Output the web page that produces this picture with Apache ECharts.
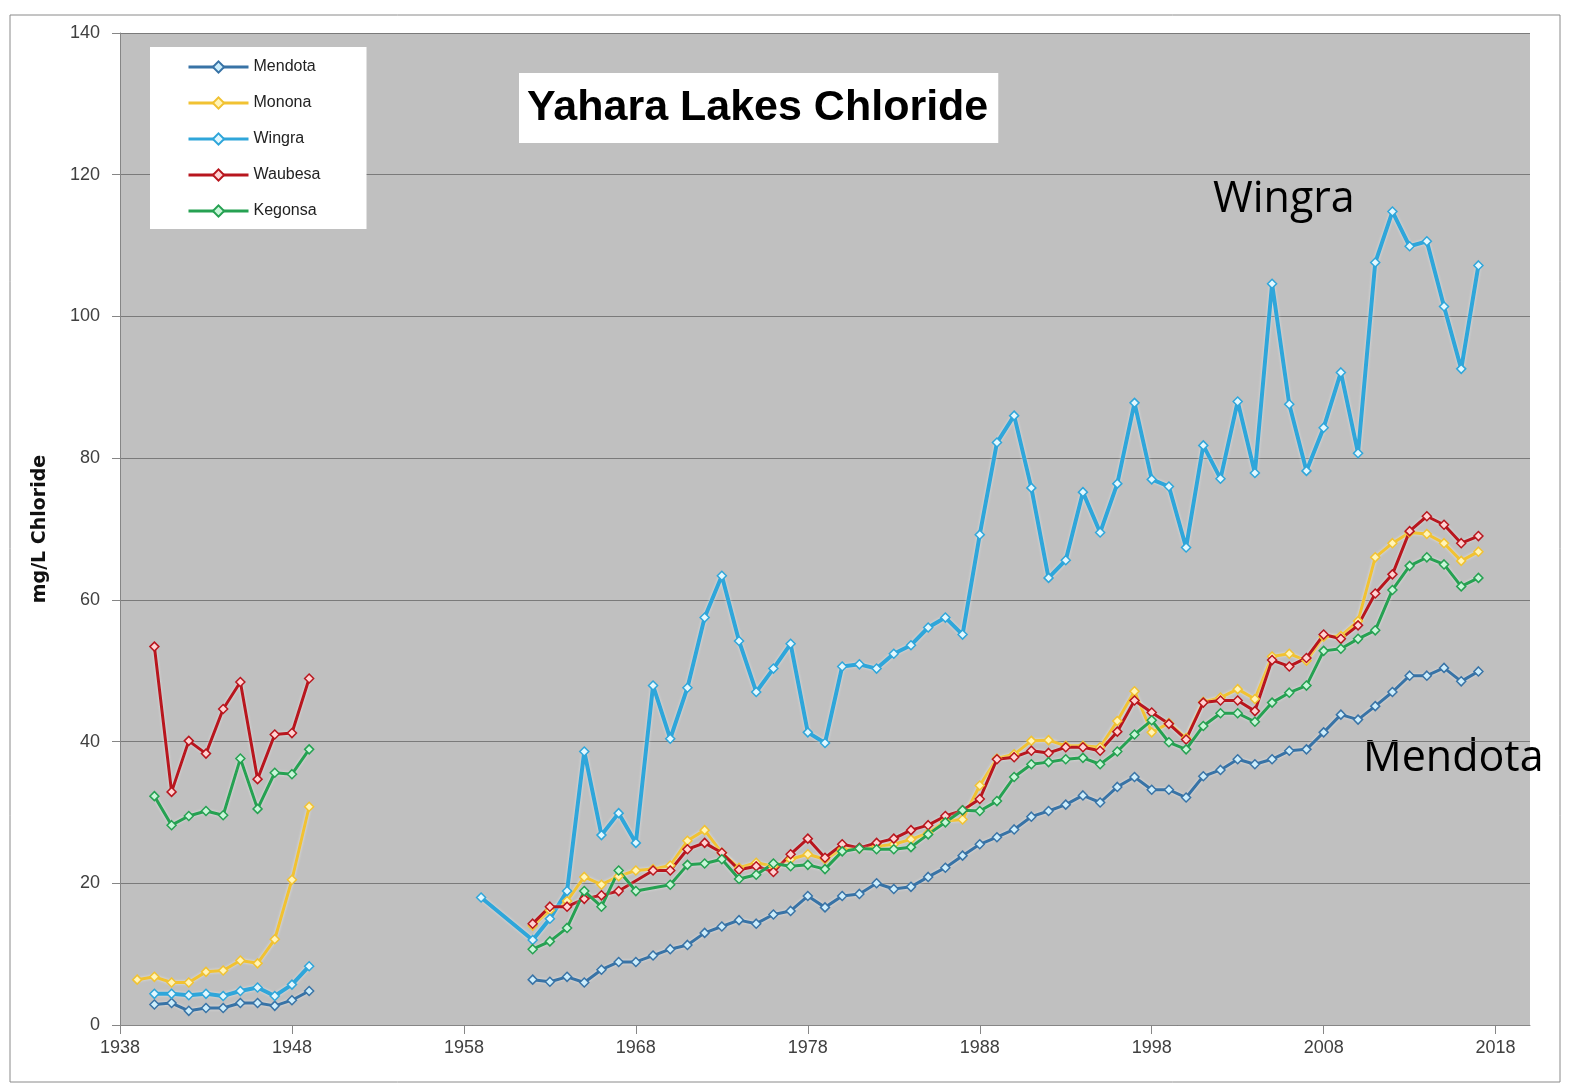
<!DOCTYPE html>
<html>
<head>
<meta charset="utf-8">
<title>Yahara Lakes Chloride</title>
<script src="https://cdn.jsdelivr.net/npm/echarts@6/dist/echarts.min.js"></script>
<style>
  html, body { margin: 0; padding: 0; background: #fff; }
  #chart { width: 1569px; height: 1089px; }
</style>
</head>
<body>
<div id="chart"></div>
<script>
// years with samples (two eras, the 1950s are a gap)
const earlyYears = [1939, 1940, 1941, 1942, 1943, 1944, 1945, 1946, 1947, 1948, 1949];
const modernYears = [
  1959, 1960, 1961, 1962, 1963, 1964, 1965, 1966, 1967, 1968,
  1969, 1970, 1971, 1972, 1973, 1974, 1975, 1976, 1977, 1978,
  1979, 1980, 1981, 1982, 1983, 1984, 1985, 1986, 1987, 1988,
  1989, 1990, 1991, 1992, 1993, 1994, 1995, 1996, 1997, 1998,
  1999, 2000, 2001, 2002, 2003, 2004, 2005, 2006, 2007, 2008,
  2009, 2010, 2011, 2012, 2013, 2014, 2015, 2016, 2017
];
const gapYear = 1954;
const xTicks = [1938, 1948, 1958, 1968, 1978, 1988, 1998, 2008, 2018];

// mg/L chloride
const mendotaEarly = [null, 2.9, 3.1, 2.0, 2.4, 2.4, 3.1, 3.1, 2.7, 3.5, 4.8];
const mendotaModern = [
  null, null, null, 6.4, 6.1, 6.8, 6.0, 7.8, 8.9, 8.9,
  9.8, 10.7, 11.3, 13.0, 13.9, 14.8, 14.3, 15.6, 16.1, 18.2,
  16.6, 18.2, 18.5, 20.0, 19.2, 19.5, 20.9, 22.2, 23.9, 25.5,
  26.5, 27.6, 29.4, 30.2, 31.1, 32.4, 31.4, 33.6, 35.0, 33.2,
  33.2, 32.1, 35.1, 36.0, 37.5, 36.8, 37.5, 38.7, 38.9, 41.3,
  43.8, 43.1, 45.0, 47.0, 49.3, 49.3, 50.4, 48.5, 49.9
];

const mononaEarly = [6.4, 6.8, 6.0, 6.0, 7.5, 7.7, 9.1, 8.7, 12.1, 20.5, 30.8];
const mononaModern = [
  null, null, null, 14.0, 16.2, 17.5, 20.9, 19.8, 21.0, 21.8,
  22.0, 22.5, 26.0, 27.5, 24.3, 22.2, 22.9, 22.4, 23.4, 24.1,
  23.4, 24.8, 24.9, 25.2, 25.5, 26.2, 27.1, 28.8, 29.0, 33.8,
  37.6, 38.2, 40.1, 40.2, 39.4, 39.4, 39.2, 42.9, 47.1, 41.3,
  42.6, 40.5, 45.6, 46.2, 47.4, 46.0, 52.0, 52.4, 51.4, 54.8,
  54.9, 57.0, 66.0, 68.0, 69.5, 69.3, 68.0, 65.5, 66.8
];

const wingraEarly = [null, 4.4, 4.4, 4.2, 4.4, 4.1, 4.8, 5.3, 4.1, 5.7, 8.3];
const wingraModern = [
  18.0, null, null, 12.0, 15.0, 18.9, 38.6, 26.8, 29.9, 25.7,
  47.9, 40.4, 47.6, 57.5, 63.4, 54.2, 47.0, 50.3, 53.8, 41.3,
  39.8, 50.6, 50.9, 50.3, 52.4, 53.6, 56.1, 57.5, 55.1, 69.2,
  82.2, 86.0, 75.8, 63.1, 65.6, 75.2, 69.5, 76.4, 87.8, 77.0,
  76.0, 67.4, 81.8, 77.1, 88.0, 77.9, 104.6, 87.6, 78.2, 84.3,
  92.1, 80.7, 107.6, 114.8, 109.9, 110.6, 101.4, 92.6, 107.2
];

const waubesaEarly = [null, 53.4, 32.9, 40.1, 38.3, 44.6, 48.4, 34.7, 41.0, 41.2, 48.9];
const waubesaModern = [
  null, null, null, 14.3, 16.7, 16.7, 17.8, 18.3, 18.9, null,
  21.8, 21.8, 24.8, 25.7, 24.3, 21.9, 22.4, 21.6, 24.1, 26.3,
  23.6, 25.5, 25.0, 25.7, 26.3, 27.5, 28.2, 29.5, 30.3, 31.9,
  37.5, 37.8, 38.7, 38.4, 39.2, 39.2, 38.7, 41.4, 45.8, 44.1,
  42.5, 40.3, 45.5, 45.8, 45.8, 44.3, 51.5, 50.6, 51.8, 55.1,
  54.5, 56.4, 60.9, 63.6, 69.7, 71.8, 70.6, 68.0, 69.0
];

const kegonsaEarly = [null, 32.3, 28.2, 29.5, 30.2, 29.6, 37.6, 30.5, 35.6, 35.4, 38.9];
const kegonsaModern = [
  null, null, null, 10.7, 11.8, 13.7, 18.9, 16.7, 21.8, 18.9,
  null, 19.8, 22.6, 22.8, 23.4, 20.6, 21.2, 22.8, 22.4, 22.6,
  22.0, 24.5, 24.9, 24.8, 24.8, 25.1, 26.9, 28.6, 30.3, 30.2,
  31.6, 35.0, 36.8, 37.1, 37.5, 37.7, 36.8, 38.6, 41.0, 43.0,
  39.9, 38.9, 42.2, 44.0, 44.0, 42.8, 45.5, 46.9, 47.9, 52.8,
  53.1, 54.5, 55.7, 61.4, 64.8, 66.0, 65.0, 61.9, 63.1
];

const lakes = [
  {name: 'Mendota', early: mendotaEarly, modern: mendotaModern, color: '#3873a6', fill: '#cdeefc', width: 3},
  {name: 'Monona', early: mononaEarly, modern: mononaModern, color: '#f1c232', fill: '#fff4b8', width: 3},
  {name: 'Wingra', early: wingraEarly, modern: wingraModern, color: '#2fa6da', fill: '#e2f8ff', width: 4},
  {name: 'Waubesa', early: waubesaEarly, modern: waubesaModern, color: '#b8161e', fill: '#ffd3d3', width: 3},
  {name: 'Kegonsa', early: kegonsaEarly, modern: kegonsaModern, color: '#26a152', fill: '#c9f6d9', width: 3}
];

function toPairs(early, modern) {
  let pts = [];
  for (let i = 0; i < earlyYears.length; i++) {
    if (early[i] != null) pts.push([earlyYears[i], early[i]]);
  }
  pts.push([gapYear, '-']); // break the line across the 1950s
  for (let i = 0; i < modernYears.length; i++) {
    if (modern[i] != null) pts.push([modernYears[i], modern[i]]);
  }
  return pts;
}

const chart = echarts.init(document.getElementById('chart'), null, {renderer: 'canvas'});

const option = {
  animation: false,
  backgroundColor: '#fff',
  title: {
    text: 'Yahara Lakes Chloride',
    left: 519,
    top: 73,
    backgroundColor: '#fff',
    padding: [12, 10, 12, 8],
    textStyle: {
      fontFamily: 'Liberation Sans',
      fontWeight: 'bold',
      fontSize: 43,
      lineHeight: 46,
      color: '#000'
    }
  },
  legend: {
    orient: 'vertical',
    left: 150,
    top: 47,
    backgroundColor: '#fff',
    padding: [12, 46, 10, 37],
    itemWidth: 60,
    itemHeight: 14,
    itemGap: 20,
    lineStyle: {width: 3},
    textStyle: {fontFamily: 'Liberation Sans', fontSize: 16, color: '#222'},
    data: lakes.map(l => l.name)
  },
  grid: {
    left: 120,
    top: 33,
    right: 39,
    bottom: 64,
    show: true,
    backgroundColor: '#c0c0c0',
    borderWidth: 0
  },
  xAxis: {
    type: 'value',
    min: 1938,
    max: 2020,
    interval: 10,
    splitLine: {show: false},
    axisLine: {show: true, lineStyle: {color: '#868686', width: 1}},
    axisTick: {show: true, length: 9, inside: false, customValues: xTicks, lineStyle: {color: '#868686'}},
    axisLabel: {
      customValues: xTicks,
      formatter: v => String(v),
      margin: 14,
      fontFamily: 'Liberation Sans',
      fontSize: 18,
      color: '#404040'
    }
  },
  yAxis: {
    type: 'value',
    min: 0,
    max: 140,
    interval: 20,
    name: 'mg/L Chloride',
    nameLocation: 'middle',
    nameGap: 70,
    nameTextStyle: {fontFamily: 'DejaVu Sans', fontWeight: 'bold', fontSize: 19, color: '#111'},
    axisLine: {show: true, lineStyle: {color: '#868686', width: 1}},
    axisTick: {show: true, length: 8, inside: false, lineStyle: {color: '#868686'}},
    splitLine: {show: true, lineStyle: {color: '#7a7a7a', width: 1.2}},
    axisLabel: {margin: 20, fontFamily: 'Liberation Sans', fontSize: 18, color: '#404040'}
  },
  series: lakes.map(l => ({
    name: l.name,
    type: 'line',
    data: toPairs(l.early, l.modern),
    connectNulls: false,
    symbol: 'diamond',
    symbolSize: 9,
    showAllSymbol: true,
    lineStyle: {color: l.color, width: l.width, shadowBlur: 3, shadowColor: 'rgba(255,255,255,0.55)'},
    itemStyle: {color: l.fill, borderColor: l.color, borderWidth: 1.5},
    emphasis: {disabled: true}
  })),
  graphic: [
    {
      type: 'rect',
      silent: true,
      z: -1,
      shape: {x: 10, y: 15, width: 1550, height: 1067},
      style: {fill: null, stroke: '#8a8a8a', lineWidth: 1}
    },
    {
      type: 'text',
      left: 1213,
      top: 178,
      style: {text: 'Wingra', font: '43px "Open Sans"', fill: '#000'}
    },
    {
      type: 'text',
      left: 1363,
      top: 737,
      style: {text: 'Mendota', font: '43px "Open Sans"', fill: '#000'}
    }
  ]
};

chart.setOption(option);
</script>
</body>
</html>
